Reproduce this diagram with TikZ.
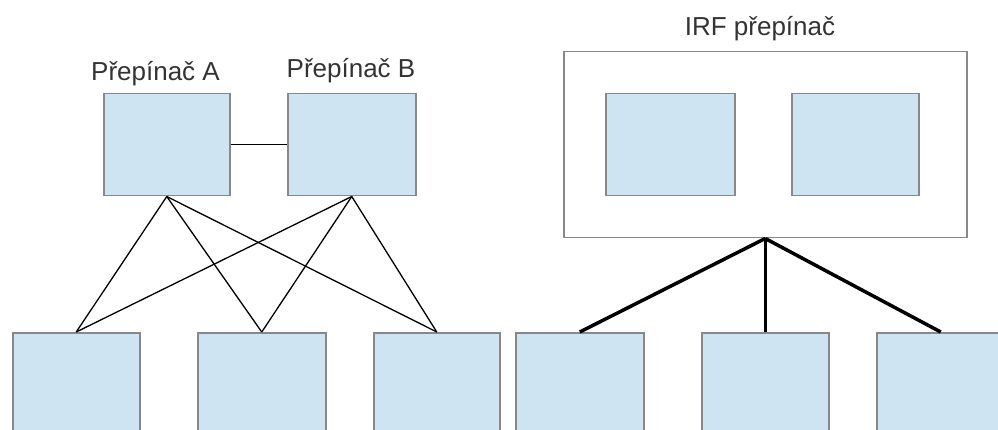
\documentclass[tikz,border=0pt]{standalone}
\usepackage{fontspec}
\setmainfont{Liberation Sans}
\definecolor{boxfill}{HTML}{CFE4F2}
\definecolor{boxline}{HTML}{888888}
\definecolor{txt}{HTML}{333333}
\begin{document}
\begin{tikzpicture}[x=1pt,y=-1pt,
  sw/.style={draw=boxline, line width=1.5pt, fill=boxfill, anchor=north west, inner sep=0pt, minimum height=102pt},
  lowbox/.style={draw=boxline, line width=1.5pt, fill=boxfill, anchor=north west, inner sep=0pt, minimum height=120pt},
  frame/.style={draw=boxline, line width=1.5pt, fill=white, anchor=north west, inner sep=0pt},
  lbl/.style={anchor=base, text=txt, font=\fontsize{26}{30}\selectfont, inner sep=0pt},
  thin/.style={draw=black, line width=1.3pt},
  thick/.style={draw=black, line width=3.5pt}]
\useasboundingbox (0,0) rectangle (998,430);
\clip (0,0) rectangle (998,430);
% left part
\node[sw, minimum width=126pt] (A) at (103,93) {};
\node[sw, minimum width=128pt] (B) at (287,93) {};
\node[lbl] (la) at (155.5,80.5) {Přepínač A};
\node[lbl] (lb) at (351,77.5) {Přepínač B};
% right part
\node[frame, minimum width=403pt, minimum height=186pt] (irf) at (563,51) {};
\node[sw, minimum width=129pt] (i1) at (605,93) {};
\node[sw, minimum width=127pt] (i2) at (791,93) {};
\node[lbl] (lirf) at (760,36) {IRF přepínač};
% bottom boxes
\node[lowbox, minimum width=127pt] (b1) at (12,332) {};
\node[lowbox, minimum width=128pt] (b2) at (197,332) {};
\node[lowbox, minimum width=126pt] (b3) at (373,332) {};
\node[lowbox, minimum width=128pt] (b4) at (515,332) {};
\node[lowbox, minimum width=127pt] (b5) at (701,332) {};
\node[lowbox, minimum width=128pt] (b6) at (876,332) {};
% connectors
\draw[thin] (A.east) -- (B.west);
\foreach \t in {b1,b2,b3} {
  \draw[thin, line join=round] (A.south) -- (\t.north);
  \draw[thin, line join=round] (B.south) -- (\t.north);
}
\foreach \t in {b4,b5,b6} {
  \draw[thick] (irf.south) -- (\t.north);
}
\end{tikzpicture}
\end{document}
